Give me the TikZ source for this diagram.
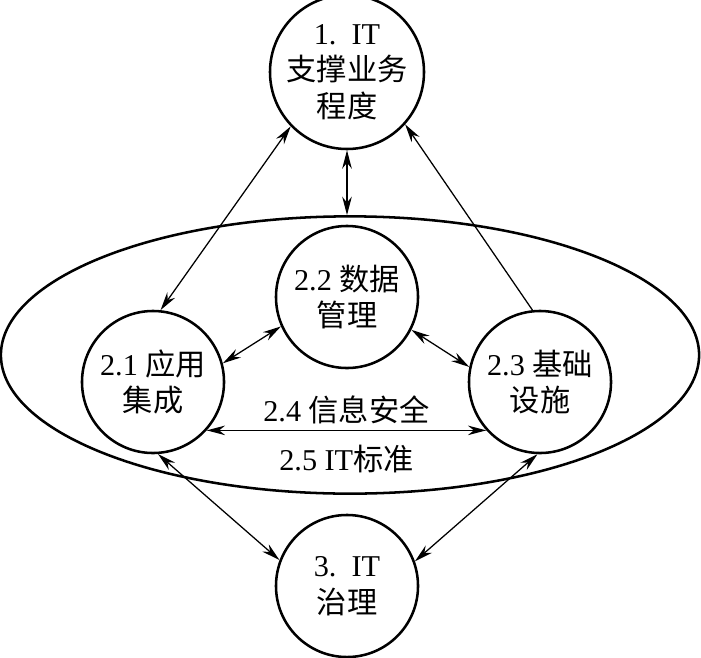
\documentclass[tikz,border=0pt]{standalone}
\usepackage{fontspec}
\setmainfont{Liberation Serif}
\newfontfamily\cjk{Noto Sans CJK SC}
\usetikzlibrary{shapes.geometric, arrows.meta}
\newcommand{\zh}[1]{{\cjk #1}}
\tikzset{
  bloque/.style={circle, draw, line width=1.8pt, minimum size=3.55cm,
    inner sep=0pt, align=center, font=\fontsize{21.5}{26}\selectfont},
  anillo/.style={ellipse, draw, line width=1.8pt, minimum width=17.45cm,
    minimum height=6.93cm, inner sep=0pt},
  punta/.tip={Stealth[length=4.6mm, width=2.4mm]},
  doble/.style={punta-punta, line width=0.9pt},
  simple/.style={-punta, line width=0.9pt},
  rotulo/.style={font=\fontsize{21.5}{26}\selectfont, inner sep=2pt}
}
\begin{document}
\begin{tikzpicture}[x=0.025cm, y=-0.025cm]
  \useasboundingbox (0,0) rectangle (701,657);
  % anillo exterior
  \node[anillo] (ring) at (350,355) {};
  % bloques
  \node[bloque] (top)   at (347,72)  {1.\ \ IT\\\zh{支撑业务}\\\zh{程度}};
  \node[bloque] (data)  at (347,297) {2.2 \zh{数据}\\\zh{管理}};
  \node[bloque] (app)   at (153,382) {2.1 \zh{应用}\\\zh{集成}};
  \node[bloque] (infra) at (540,382) {2.3 \zh{基础}\\\zh{设施}};
  \node[bloque] (gov)   at (347,586) {3.\ \ IT\\\zh{治理}};
  % conexiones
  \draw[doble] (top.south) -- (top.south |- ring.north);
  \draw[doble] (app.84) -- (top.224);
  \draw[simple] (infra.96) -- (top.318);
  \draw[doble] (data.204) -- (app.15);
  \draw[doble] (data.333) -- (infra.168);
  \draw[doble] (app.318) -- node[rotulo, above=2pt]{2.4 \zh{信息安全}}
                            node[rotulo, below=8pt]{2.5 IT\zh{标准}} (infra.222);
  \draw[doble] (app.274) -- (gov.159);
  \draw[doble] (infra.268) -- (gov.20);
\end{tikzpicture}
\end{document}
